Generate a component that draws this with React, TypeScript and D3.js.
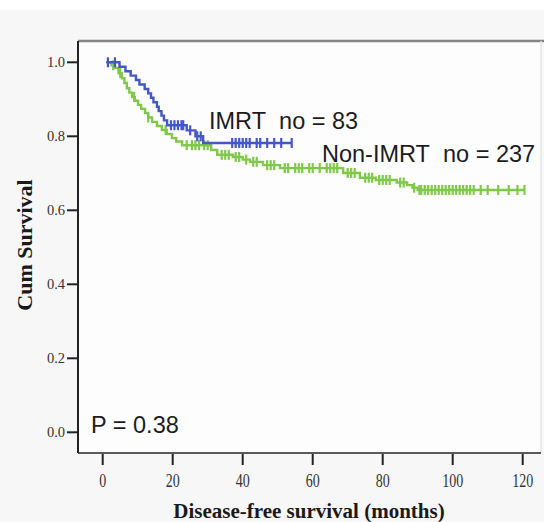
import React from "react";
import * as d3 from "d3";

// IMRT group (n = 83): event times (months) and survival after each drop
const imrtTimes = [4.8, 6.5, 8, 9.5, 10.5, 12, 13, 13.8, 14.5, 15.5, 16, 16.8, 17.5, 18.4, 24, 26.5, 28.7];
const imrtSurvival = [0.988, 0.976, 0.964, 0.952, 0.94, 0.928, 0.916, 0.904, 0.892, 0.88, 0.868, 0.856, 0.843, 0.83, 0.816, 0.8, 0.782];
const imrtCensored = [1.5, 3.5, 19.5, 20.5, 21.5, 22.5, 23, 25, 27, 28, 37, 38, 39, 40, 41, 42, 44, 45, 47, 49, 51, 54];

// Non-IMRT group (n = 237)
const nonTimes = [2.5, 3.5, 4.5, 5.5, 6.2, 6.9, 7.6, 8.4, 9.2, 10.1, 11, 12.1, 13, 14.1, 15.5, 16.9, 18.3, 19.8, 21, 22.7, 31, 32.7, 37.2, 40, 42.1, 45.8, 50.7, 68.7, 73.5, 78, 84, 87, 88.5, 90];
const nonSurvival = [0.992, 0.985, 0.971, 0.957, 0.944, 0.93, 0.918, 0.906, 0.896, 0.885, 0.874, 0.863, 0.851, 0.839, 0.828, 0.817, 0.806, 0.795, 0.786, 0.776, 0.763, 0.75, 0.744, 0.737, 0.731, 0.722, 0.714, 0.701, 0.688, 0.682, 0.675, 0.668, 0.661, 0.655];
const nonCensored = [3, 5, 9, 13, 18, 24, 25.5, 26.5, 27.5, 29, 30, 34, 35, 36, 38, 39, 41, 43, 44, 47, 48, 49, 52, 53, 55, 56, 57, 59, 60, 62, 64, 65, 66, 67, 70, 71, 72, 75, 76, 77, 79, 80, 81, 82, 85, 86, 89, 90.5, 91, 92, 93, 94, 95, 96, 97, 98, 99, 100, 101, 102, 103, 104, 105, 106, 108, 110, 113, 116, 118.5, 120.5];

const xTicks = [0, 20, 40, 60, 80, 100, 120];
const yTicks = [0, 0.2, 0.4, 0.6, 0.8, 1.0];

const W = 544, H = 522;
const BLUE = "#4457c4";
const GREEN = "#80c84a";

type Pt = [number, number];

function buildSteps(times: number[], surv: number[], start: number, end: number): Pt[] {
  const pts: Pt[] = [[start, 1]];
  times.forEach((t, i) => pts.push([t, surv[i]]));
  pts.push([end, surv[surv.length - 1]]);
  return pts;
}

function survAt(times: number[], surv: number[], t: number) {
  let s = 1;
  times.forEach((tt, i) => { if (tt <= t) s = surv[i]; });
  return s;
}

export default function App() {
  const x = d3.scaleLinear().domain([0, 120]).range([102.7, 522.7]);
  const y = d3.scaleLinear().domain([0, 1]).range([432.3, 62.3]);
  const line = d3.line<Pt>().x(d => x(d[0])).y(d => y(d[1])).curve(d3.curveStepAfter);

  const groups = [
    { color: GREEN, times: nonTimes, surv: nonSurvival, cens: nonCensored, start: 1.5, end: 120.5 },
    { color: BLUE, times: imrtTimes, surv: imrtSurvival, cens: imrtCensored, start: 1, end: 54 },
  ];

  const left = 78, top = 41, right = 541, bottom = 453;
  const sp = "\u00A0 ";

  return (
    <svg width={W} height={H} style={{ position: "absolute", left: 0, top: 0 }}>
      <rect x={0} y={0} width={W} height={H} fill="#ffffff" />
      <rect x={0} y={10} width={W} height={H - 10} fill="#f7f7f7" />
      <rect x={left} y={top} width={right - left} height={bottom - top} fill="#fdfdfd" />
      {/* frame */}
      <line x1={left} x2={W} y1={top} y2={top} stroke="#858585" strokeWidth={2.5} />
      <line x1={right} x2={right} y1={top} y2={bottom} stroke="#e4e4e4" strokeWidth={1.5} />
      <line x1={left} x2={right} y1={bottom} y2={bottom} stroke="#5a5a5a" strokeWidth={2} />
      <line x1={left} x2={left} y1={top} y2={bottom} stroke="#222" strokeWidth={2} />

      {/* y axis */}
      {yTicks.map(v => (
        <g key={v}>
          <line x1={67} x2={left} y1={y(v)} y2={y(v)} stroke="#222" strokeWidth={2} />
          <text x={65} y={y(v) + 4.8} textAnchor="end" fontFamily="Liberation Serif, serif" fontSize={14.5} fill="#333">
            {v.toFixed(1)}
          </text>
        </g>
      ))}
      {/* x axis */}
      {xTicks.map(v => (
        <g key={v}>
          <line x1={x(v)} x2={x(v)} y1={bottom + 1} y2={465} stroke="#222" strokeWidth={2} />
          <text transform={`translate(${x(v)},487) scale(1,1.4)`} textAnchor="middle" fontFamily="Liberation Serif, serif" fontSize={14} fill="#333">
            {v}
          </text>
        </g>
      ))}

      <text x={309} y={518} textAnchor="middle" fontFamily="Liberation Serif, serif" fontWeight="bold" fontSize={21} fill="#1a1a1a">
        Disease-free survival (months)
      </text>
      <text transform="translate(31.5,245) rotate(-90)" textAnchor="middle" fontFamily="Liberation Serif, serif" fontWeight="bold" fontSize={22} fill="#1a1a1a">
        Cum Survival
      </text>

      {/* curves */}
      {groups.map((g, gi) => (
        <g key={gi}>
          <path d={line(buildSteps(g.times, g.surv, g.start, g.end)) ?? undefined} fill="none" stroke={g.color} strokeWidth={2.4} />
          {g.cens.map((c, i) => {
            const s = survAt(g.times, g.surv, c);
            return <line key={i} x1={x(c)} x2={x(c)} y1={y(s) - 5} y2={y(s) + 5} stroke={g.color} strokeWidth={2.2} />;
          })}
        </g>
      ))}

      {/* annotations */}
      <g fontFamily="Liberation Sans, Arial, sans-serif" fontSize={23.5} fill="#1c1c1c">
        <text x={209} y={129}>{`IMRT${sp}no = 83`}</text>
        <text x={322} y={162}>{`Non-IMRT${sp}no = 237`}</text>
        <text x={91} y={432.5}>{"P = 0.38"}</text>
      </g>
    </svg>
  );
}
